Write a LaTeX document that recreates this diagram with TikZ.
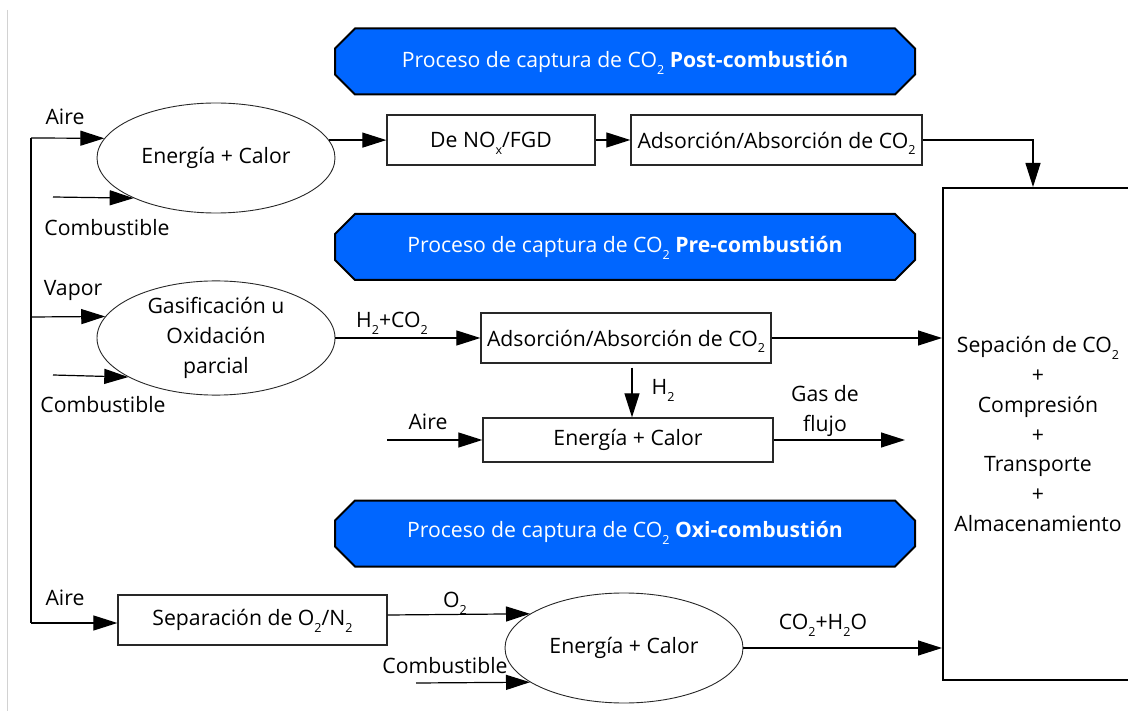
\documentclass[tikz,border=0pt]{standalone}
\usepackage{fontspec}
\setmainfont{Open Sans}
\usetikzlibrary{shapes.geometric,arrows.meta,calc}
\newcommand{\dn}[1]{\raisebox{-0.32em}[0pt][0pt]{\fontsize{12.5}{12.5}\selectfont #1}}
\definecolor{bannerblue}{RGB}{0,102,255}
\definecolor{edgegray}{RGB}{40,40,40}

\begin{document}
\begin{tikzpicture}[x=1pt,y=-1pt,
  every node/.style={font=\fontsize{21.2}{29.7}\selectfont},
  flow/.style={draw=black,line width=1.2pt,-{Triangle[length=24pt,width=15pt]}},
  plain/.style={draw=black,line width=1.2pt},
  procbox/.style={draw=edgegray,line width=1.3pt,rectangle,inner sep=0pt},
  procell/.style={draw=edgegray,line width=0.9pt,ellipse,inner sep=0pt,minimum width=238pt,align=center},
  lbl/.style={inner sep=0pt},
  bannertext/.style={text=white,inner sep=0pt},
  banner/.pic={\draw[fill=bannerblue,draw=black,line width=2pt]
      (-290,-13) -- (-270,-33) -- (270,-33) -- (290,-13) -- (290,13)
      -- (270,33) -- (-270,33) -- (-290,13) -- cycle;},
]
\useasboundingbox (0,0) rectangle (1128,711);
\clip (0,0) rectangle (1128,711);

% page edge rule
\draw[gray!35,line width=1pt] (7,10) -- (7,711);

% section banners
\pic at (625,61.5) {banner};
\pic at (625,247) {banner};
\pic at (625,533.5) {banner};
\node[bannertext] (ban1) at (625,62) {Proceso de captura de CO\dn{2} \textbf{Post-combustión}};
\node[bannertext] (ban2) at (625,247) {Proceso de captura de CO\dn{2} \textbf{Pre-combustión}};
\node[bannertext] (ban3) at (625,532) {Proceso de captura de CO\dn{2} \textbf{Oxi-combustión}};

% storage block
\node[draw=black,line width=2pt,rectangle,inner sep=0pt,minimum width=190pt,minimum height=492pt,align=center]
  (big) at (1038,434) {Sepación de CO\dn{2}\\+\\Compresión\\+\\Transporte\\+\\Almacenamiento};

% post-combustion line
\node[procell,minimum height=110pt] (e1) at (216,158) {Energía + Calor};
\node[procbox,minimum width=208pt,minimum height=50pt] (denox) at (491,140) {De NO\dn{x}/FGD};
\node[procbox,minimum width=291pt,minimum height=50pt] (ads1) at (776.5,140) {Adsorción/Absorción de CO\dn{2}};

% pre-combustion line
\node[procell,minimum height=101pt] (e2) at (216,338) {Gasificación u\\Oxidación\\parcial};
\node[procbox,minimum width=290pt,minimum height=50pt] (ads2) at (626,338) {Adsorción/Absorción de CO\dn{2}};
\node[procbox,minimum width=290pt,minimum height=44pt] (en2) at (628,440) {Energía + Calor};

% oxy-combustion line
\node[procbox,minimum width=269pt,minimum height=50pt] (sep) at (252.5,620) {Separación de O\dn{2}/N\dn{2}};
\node[procell,minimum height=110pt] (e3) at (624,648) {Energía + Calor};

% stream labels
\node[lbl] (aire1) at (65,117) {Aire};
\node[lbl] (comb1) at (107,228) {Combustible};
\node[lbl] (vapor) at (73,290) {Vapor};
\node[lbl] (comb2) at (103,405) {Combustible};
\node[lbl] (h2co2) at (392,320) {H\dn{2}+CO\dn{2}};
\node[lbl] (h2) at (663,387) {H\dn{2}};
\node[lbl] (aire2) at (428,422) {Aire};
\node[lbl,align=center] (gas) at (825,411) {Gas de\\flujo};
\node[lbl] (aire3) at (65,598) {Aire};
\node[lbl] (o2) at (455,600) {O\dn{2}};
\node[lbl] (comb3) at (445,666) {Combustible};
\node[lbl] (co2h2o) at (823,622) {CO\dn{2}+H\dn{2}O};

% feed spine
\coordinate (spinetop) at (31,138);
\coordinate (spinemid) at (31,317);
\coordinate (spinebot) at (31,623);
\draw[plain] (spinetop) -- (spinebot);
\draw[flow] (spinetop) -- (e1.170.3);
\draw[flow] (spinemid) -- (e2.169);
\draw[flow] (spinebot) -- (spinebot -| sep.west);

% fuel inlets
\coordinate (fuel1) at (53,197);
\coordinate (fuel2) at (53,375);
\coordinate (fuel3) at (416,683);
\draw[flow] (fuel1) -- (e1.206.1);
\draw[flow] (fuel2) -- (e2.204.6);
\draw[flow] (fuel3) -- (e3.200.9);

% post-combustion flow
\draw[flow] (e1.9.7) -- (e1.9.7 -| denox.west);
\draw[flow] (denox.east) -- (ads1.west);
\draw[flow] (ads1.east) -| ([xshift=-5pt]big.north);

% pre-combustion flow
\draw[flow] (e2.east) -- (ads2.west);
\draw[flow] (ads2.east) -- (ads2.east -| big.west);
\draw[flow] ([shift={(6pt,-4pt)}]ads2.south) coordinate (h2top) -- (h2top |- en2.north);
\coordinate (aire2in) at (387,440);
\draw[flow] (aire2in) -- (en2.west);
\coordinate (fluegas) at (905,440);
\draw[flow] (en2.east) -- (fluegas);

% oxy-combustion flow
\draw[flow] ([yshift=5pt]sep.east) -- (e3.160.9);
\draw[flow] (e3.east) -- (e3.east -| big.west);
\end{tikzpicture}
\end{document}
